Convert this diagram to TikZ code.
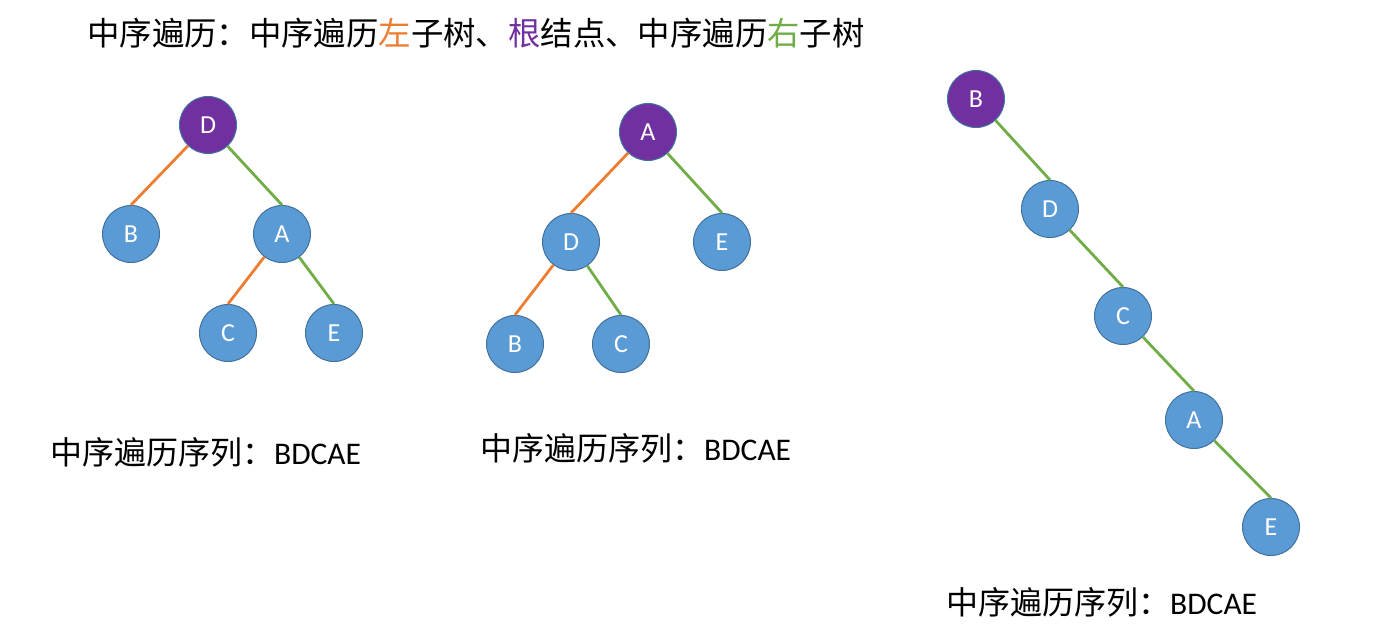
\documentclass[tikz,border=0pt]{standalone}
\usepackage{fontspec}
\setmainfont{Carlito}
\newfontfamily\cjk{Noto Sans CJK SC}
\definecolor{rootpurple}{HTML}{7030A0}
\definecolor{nodeblue}{HTML}{5B9BD5}
\definecolor{rimblue}{HTML}{41719C}
\definecolor{leftorange}{HTML}{ED7D31}
\definecolor{rightgreen}{HTML}{70AD47}
\tikzset{
  tnode/.style={circle, draw=rimblue, line width=1pt, fill=nodeblue,
    minimum size=57pt, inner sep=0pt, text=white, font=\fontsize{26}{26}\selectfont},
  troot/.style={tnode, fill=rootpurple},
  ledge/.style={leftorange, line width=2.8pt},
  redge/.style={rightgreen, line width=2.8pt},
  seqlabel/.style={anchor=west, inner sep=0pt, font=\fontsize{31.5}{32}\selectfont}
}
\begin{document}
\begin{tikzpicture}[x=1pt, y=-1pt]
            \useasboundingbox (0, 0) rectangle (1382, 628);

            \node[anchor=west, inner sep=0pt, font=\cjk\fontsize{32.4}{33}\selectfont] (title) at (87, 33)
                {中序遍历：中序遍历\textcolor{leftorange}{左}子树、\textcolor{rootpurple}{根}结点、中序遍历\textcolor{rightgreen}{右}子树};

            % first tree
            \node[troot] (d1) at (208, 125) {D};
            \node[tnode] (b1) at (131, 234) {B};
            \node[tnode] (a1) at (282, 234) {A};
            \node[tnode] (c1) at (228, 333) {C};
            \node[tnode] (e1) at (334, 333) {E};
            \draw[ledge] (d1) -- (b1.north);
            \draw[redge] (d1) -- (a1.north);
            \draw[ledge] (a1) -- (c1.north);
            \draw[redge] (a1) -- (e1.north);

            % second tree
            \node[troot] (a2) at (648, 132) {A};
            \node[tnode] (d2) at (571, 242) {D};
            \node[tnode] (e2) at (722, 242) {E};
            \node[tnode] (b2) at (515, 344) {B};
            \node[tnode] (c2) at (621, 344) {C};
            \draw[ledge] (a2) -- (d2.north);
            \draw[redge] (a2) -- (e2.north);
            \draw[ledge] (d2) -- (b2.north);
            \draw[redge] (d2) -- (c2.north);

            % third tree
            \node[troot] (b3) at (976, 99) {B};
            \node[tnode] (d3) at (1050, 209) {D};
            \node[tnode] (c3) at (1123, 316) {C};
            \node[tnode] (a3) at (1194, 420) {A};
            \node[tnode] (e3) at (1271, 527) {E};
            \draw[redge] (b3) -- (d3.north);
            \draw[redge] (d3) -- (c3.north);
            \draw[redge] (c3) -- (a3.north);
            \draw[redge] (a3) -- (e3.north);

            \node[seqlabel] (seq1) at (50, 452) {{\cjk\fontsize{32}{32}\selectfont 中序遍历序列：}BDCAE};
            \node[seqlabel] (seq2) at (480, 448) {{\cjk\fontsize{32}{32}\selectfont 中序遍历序列：}BDCAE};
            \node[seqlabel] (seq3) at (946, 602) {{\cjk\fontsize{32}{32}\selectfont 中序遍历序列：}BDCAE};
        \end{tikzpicture}
\end{document}
